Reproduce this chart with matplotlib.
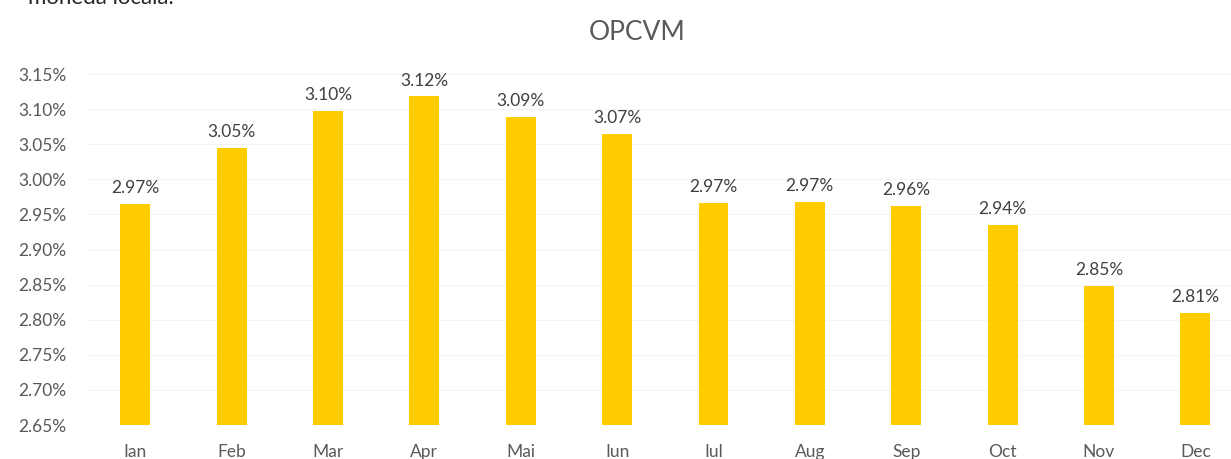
import matplotlib.pyplot as plt
from matplotlib.ticker import FuncFormatter

plt.rcParams['font.family'] = ['Lato', 'DejaVu Sans']

months = ['Ian', 'Feb', 'Mar', 'Apr', 'Mai', 'Iun', 'Iul', 'Aug', 'Sep', 'Oct', 'Nov', 'Dec']
values = [2.965, 3.045, 3.097, 3.118, 3.089, 3.065, 2.966, 2.968, 2.962, 2.935, 2.848, 2.810]
value_labels = ['2.97%', '3.05%', '3.10%', '3.12%', '3.09%', '3.07%',
                '2.97%', '2.97%', '2.96%', '2.94%', '2.85%', '2.81%']
yticks = [2.65, 2.70, 2.75, 2.80, 2.85, 2.90, 2.95, 3.00, 3.05, 3.10, 3.15]

fig = plt.figure(figsize=(12.31, 4.59), dpi=100)
ax = fig.add_axes([87 / 1231, 1 - 425 / 459, 1 - 87 / 1231, (425 - 74) / 459])

x = list(range(len(months)))
base = 2.65
ax.bar(x, [v - base for v in values], bottom=base, width=0.31, color='#FFCC00', zorder=2)

for xi, v, lab in zip(x, values, value_labels):
    ax.text(xi, v + 0.011, lab, ha='center', va='bottom', fontsize=12.5, color='#404040')

ax.set_ylim(2.65, 3.15)
ax.set_xlim(-0.5, 11.37)
ax.set_yticks(yticks)
ax.yaxis.set_major_formatter(FuncFormatter(lambda v, p: f'{v:.2f}%'))
ax.set_xticks(x)
ax.set_xticklabels(months)
ax.tick_params(axis='y', length=0, pad=15, labelsize=12.5, labelcolor='#595959')
ax.tick_params(axis='x', length=0, pad=14, labelsize=12.5, labelcolor='#595959')
ax.grid(axis='y', color='#f2f4f8', linewidth=0.8, zorder=0)
for s in ax.spines.values():
    s.set_visible(False)

fig.text(637 / 1231, 1 - 32 / 459, 'OPCVM', ha='center', va='center', fontsize=19, color='#595959')
# partly cut-off line of text from the page above the chart
fig.text(28 / 1231, 1.004, 'moneda locala.', ha='left', va='center', fontsize=16, color='#262626')

fig.savefig('out.png', dpi=100)
